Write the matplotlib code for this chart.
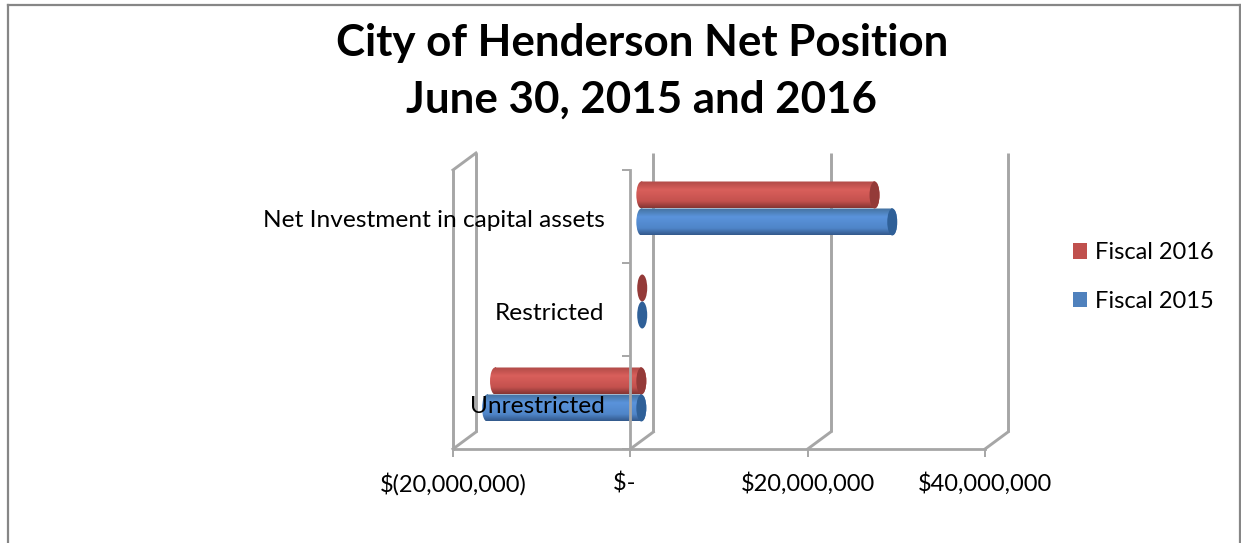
import numpy as np
import matplotlib
matplotlib.use("Agg")
import matplotlib.pyplot as plt
from matplotlib.colors import LinearSegmentedColormap
from matplotlib.lines import Line2D
from matplotlib.patches import Ellipse, Patch, PathPatch
from matplotlib.path import Path
from matplotlib.transforms import Affine2D, IdentityTransform

plt.rcParams['font.family'] = ['Lato', 'DejaVu Sans']

categories = ['Unrestricted', 'Restricted', 'Net Investment in capital assets']
fiscal_2016 = [-16.5e6, 0.1e6, 26.3e6]
fiscal_2015 = [-17.4e6, 0.1e6, 28.3e6]
x_ticks = [-20e6, 0, 20e6, 40e6]
x_tick_labels = ['$(20,000,000)', '$-  ', '$20,000,000', '$40,000,000']
title = 'City of Henderson Net Position\nJune 30, 2015 and 2016'

W, H = 1241, 543
GRAY = '#A6A6A6'
FRAME = '#868686'
TEXT = '#000000'
fig = plt.figure(figsize=(W / 100, H / 100), dpi=100, facecolor='white')
ax = fig.add_axes([453 / W, (H - 449) / H, (985 - 453) / W, (449 - 170) / H])
ax.set_xlim(-20e6, 40e6)
ax.set_ylim(0, 3)
ax.patch.set_alpha(0)

# 3-D depth offsets, pixels
wall = ax.transData + Affine2D().translate(23, 17)
bar_tf = ax.transData + Affine2D().translate(11, 8)
xpx = (985 - 453) / 60e6
ypx = (449 - 170) / 3
cap_w = 5 / xpx  # half ellipse width in data units
bar_h = 27 / ypx

# walls
for x in x_ticks:
    ax.plot([x, x], [0, 3], color=GRAY, lw=2.1, transform=wall, clip_on=False, zorder=1,
            solid_capstyle='butt')
    px = 453 + (x + 20e6) * xpx
    ax.add_artist(Line2D([px, px + 23], [H - 449, H - 432], color=GRAY, lw=2.1,
                         transform=IdentityTransform(), zorder=1, clip_on=False))
ax.plot([-20e6, -20e6], [0, 3], color=GRAY, lw=2.1, clip_on=False, zorder=1.5)
ax.add_artist(Line2D([453, 476], [H - 170, H - 153], color=GRAY, lw=2.1,
                     transform=IdentityTransform(), zorder=1, clip_on=False))


def ramp(c_top, c_light, c_mid, c_low):
    return LinearSegmentedColormap.from_list('c', [(0, c_top), (0.32, c_light), (0.75, c_mid), (1, c_low)])


def cylinder(val, y0, cmap, cap_color):
    lo, hi = min(0, val), max(0, val)
    y1 = y0 + bar_h
    if hi - lo > 1e6:
        rect = Path([(lo, y0), (hi, y0), (hi, y1), (lo, y1), (lo, y0)], closed=True)
        e1 = Path.unit_circle().transformed(Affine2D().scale(cap_w, bar_h / 2).translate(lo, y0 + bar_h / 2))
        e2 = Path.unit_circle().transformed(Affine2D().scale(cap_w, bar_h / 2).translate(hi, y0 + bar_h / 2))
        outline = Path.make_compound_path(rect, e1, e2)
        grad = np.linspace(0, 1, 64).reshape(-1, 1)
        im = ax.imshow(grad, cmap=cmap, aspect='auto', origin='upper', zorder=2,
                       extent=(lo - cap_w, hi + cap_w, y0, y1), transform=bar_tf)
        im.set_clip_path(PathPatch(outline, transform=bar_tf))
    ax.add_patch(Ellipse((hi, y0 + bar_h / 2), 2 * cap_w, bar_h, facecolor=cap_color,
                         edgecolor='none', transform=bar_tf, zorder=2.2, clip_on=False))


red_map = ramp('#B04A47', '#D95F5B', '#C4514E', '#843533')
blue_map = ramp('#44729F', '#5A93DB', '#4F85C8', '#33598C')
for i in range(len(categories)):
    cylinder(fiscal_2016[i], i + 0.5, red_map, '#943A38')
    cylinder(fiscal_2015[i], i + 0.5 - bar_h, blue_map, '#2F6098')
ax.set_xlim(-20e6, 40e6)
ax.set_ylim(0, 3)

# axes
for s in ['top', 'right']:
    ax.spines[s].set_visible(False)
ax.spines['left'].set_position(('data', 0))
for s in ['left', 'bottom']:
    ax.spines[s].set_color(GRAY)
    ax.spines[s].set_linewidth(2)
    ax.spines[s].set_zorder(2.4)
ax.set_xticks(x_ticks)
ax.set_xticklabels(x_tick_labels)
ax.tick_params(axis='x', length=6, width=1.4, color=GRAY, pad=11, labelsize=17, labelcolor=TEXT)
ax.set_yticks([0.5, 1.5, 2.5])
ax.set_yticklabels(categories)
ax.set_yticks([0, 1, 2, 3], minor=True)
ax.tick_params(axis='y', which='major', length=0, pad=18.5, labelsize=17.6, labelcolor=TEXT)
ax.tick_params(axis='y', which='minor', length=6, width=1.4, color=GRAY)
ax.yaxis.set_zorder(5)
ax.xaxis.set_zorder(5)
for lab in ax.get_yticklabels():
    lab.set_transform(lab.get_transform() + Affine2D().translate(0, -2))

# title
fig.text(642 / W, 1 - 71.5 / H, title, ha='center', va='center', fontsize=31.6, fontweight='bold',
         color=TEXT, linespacing=1.52)

# legend
handles = [Patch(facecolor='#C0504D', label='Fiscal 2016'), Patch(facecolor='#4F81BD', label='Fiscal 2015')]
fig.legend(handles=handles, loc='center left', bbox_to_anchor=(1072.5 / W, 1 - 277 / H), frameon=False,
           fontsize=17, handlelength=0.635, handleheight=0.635, handletextpad=0.3, labelspacing=1.15,
           borderpad=0, borderaxespad=0)

# frame
for xs, ys in [((8, 8), (543, 5)), ((8, 1240), (5, 5)), ((1240, 1240), (5, 543))]:
    fig.add_artist(Line2D([x / W for x in xs], [1 - y / H for y in ys], color=FRAME, lw=1.6,
                          transform=fig.transFigure))

fig.savefig('out.png', dpi=100, facecolor='white')
